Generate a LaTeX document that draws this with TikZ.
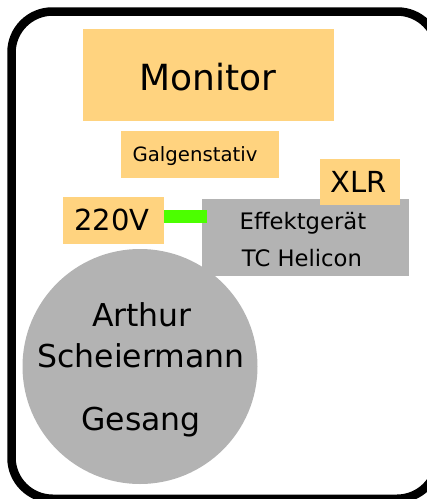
\documentclass[tikz,border=0pt]{standalone}
\usepackage{fontspec}
\setmainfont{DejaVu Sans}
\definecolor{boxorange}{HTML}{FFD37F}
\definecolor{boxgray}{HTML}{B3B3B3}
\definecolor{wiregreen}{HTML}{4CFF00}
\begin{document}
\begin{tikzpicture}[x=1pt,y=-1pt,
  obox/.style={fill=boxorange,draw=none,inner sep=0pt,anchor=north west},
  gbox/.style={fill=boxgray,draw=none,inner sep=0pt,anchor=north west},
  txt/.style={inner sep=0pt,anchor=base,text=black},
  wire/.style={draw=wiregreen,line width=13pt}]
\useasboundingbox (0,0) rectangle (427,499);
\begin{scope}
\clip (0,0) rectangle (427,499);
\fill[black,even odd rule]
  [rounded corners=45pt] (7.25,7.25) rectangle (442.5,503)
  [rounded corners=37pt] (15.75,15.75) rectangle (434,494.5);
\end{scope}
% boxes
\node[obox,minimum width=251pt,minimum height=92pt] (monitor) at (83,29) {};
\node[obox,minimum width=158pt,minimum height=47pt] (galgen) at (121,131) {};
\node[gbox,minimum width=207pt,minimum height=77pt] (effekt) at (202,199) {};
\node[obox,minimum width=80pt,minimum height=46pt] (xlr) at (320,159) {};
\node[obox,minimum width=101pt,minimum height=47pt] (v220) at (63,197) {};
\node[circle,fill=boxgray,draw=none,minimum size=235pt,inner sep=0pt] (singer) at (140,366.5) {};
% wire
\coordinate (wireend) at (207,216.5);
\draw[wire] (v220.east |- wireend) -- (wireend);
% texts
\node[txt,font=\fontsize{36}{43}\selectfont] (tmonitor) at (207.7,90) {Monitor};
\node[txt,font=\fontsize{19.7}{24}\selectfont] (tgalgen) at (195,161.7) {Galgenstativ};
\node[txt,font=\fontsize{29}{35}\selectfont] (txlr) at (359,192.7) {XLR};
\node[txt,font=\fontsize{29}{35}\selectfont] (tv220) at (112,230) {220V};
\node[txt,font=\fontsize{22.7}{27}\selectfont] (teffekt) at (303,229.3) {Effektgerät};
\node[txt,font=\fontsize{22.7}{27}\selectfont] (ttc) at (302,266.7) {TC Helicon};
\node[txt,font=\fontsize{31.5}{38}\selectfont] (tarthur) at (142,326) {Arthur};
\node[txt,font=\fontsize{31.5}{38}\selectfont] (tscheier) at (141,367) {Scheiermann};
\node[txt,font=\fontsize{31.5}{38}\selectfont] (tgesang) at (141,430) {Gesang};
\end{tikzpicture}
\end{document}
